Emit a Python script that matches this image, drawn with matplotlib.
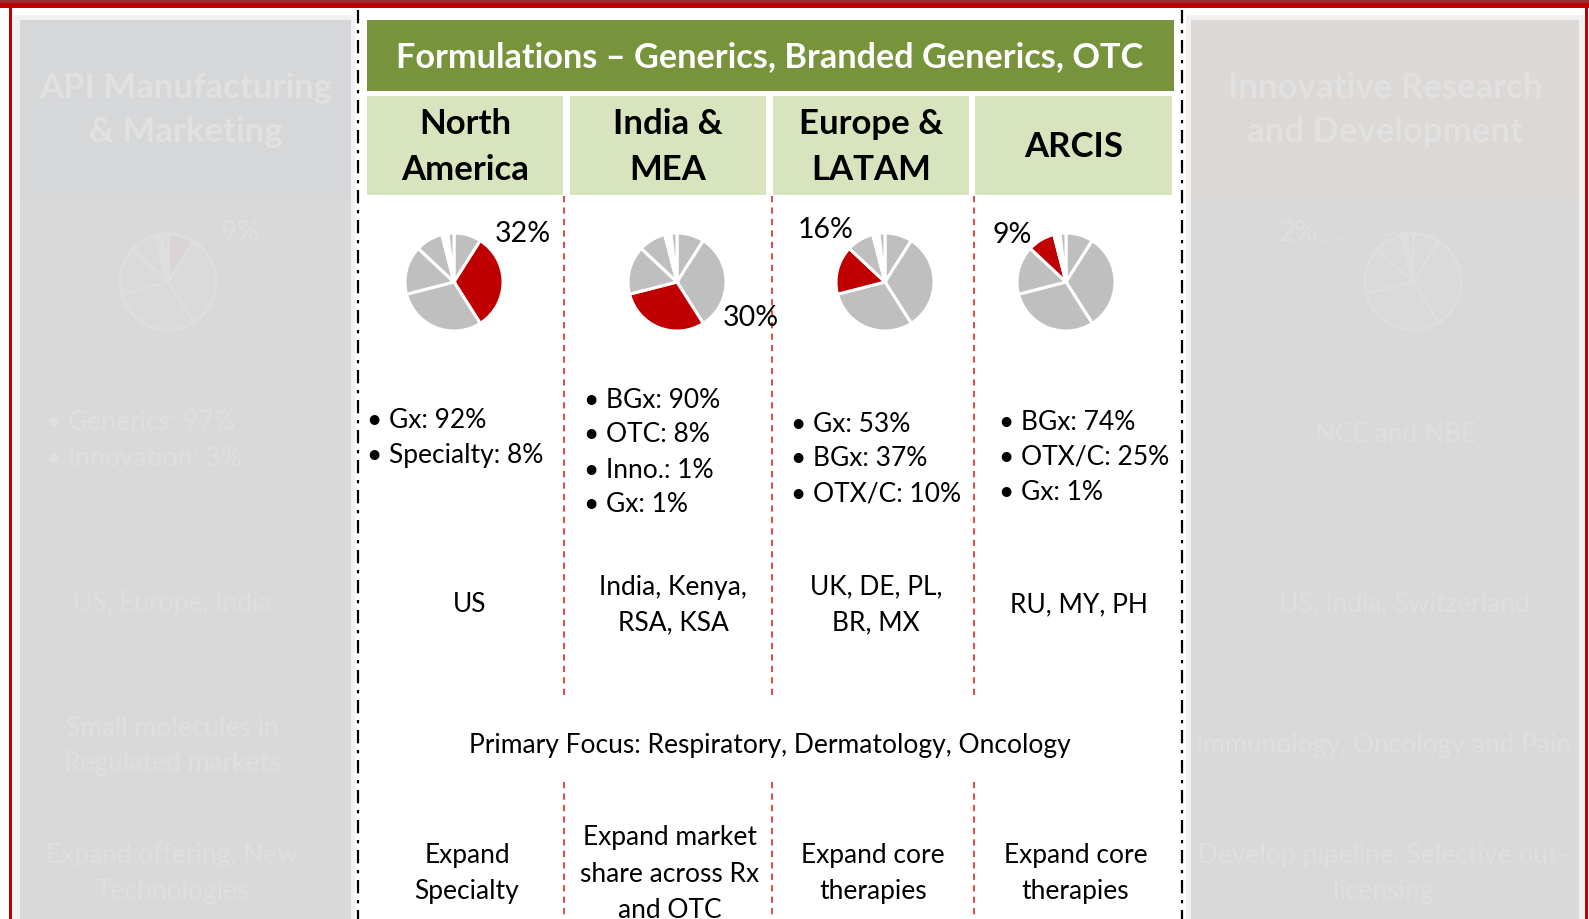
import matplotlib.pyplot as plt
from matplotlib.patches import Rectangle

plt.rcParams['font.family'] = ['Lato', 'DejaVu Sans']

W, H = 1589, 919

# revenue split by business (clockwise from 12 o'clock)
segments = ['API', 'North America', 'India & MEA', 'Europe & LATAM', 'ARCIS', 'Other', 'Other2', 'Innovation']
shares = [9, 32, 30, 16, 9, 1, 1, 2]

title = 'Formulations – Generics, Branded Generics, OTC'
regions = ['North\nAmerica', 'India &\nMEA', 'Europe &\nLATAM', 'ARCIS']
region_seg = [1, 2, 3, 4]
region_pct = ['32%', '30%', '16%', '9%']
region_mix = [['Gx: 92%', 'Specialty: 8%'],
              ['BGx: 90%', 'OTC: 8%', 'Inno.: 1%', 'Gx: 1%'],
              ['Gx: 53%', 'BGx: 37%', 'OTX/C: 10%'],
              ['BGx: 74%', 'OTX/C: 25%', 'Gx: 1%']]
region_markets = ['US', 'India, Kenya,\nRSA, KSA', 'UK, DE, PL,\nBR, MX', 'RU, MY, PH']
region_strategy = ['Expand\nSpecialty', 'Expand market\nshare across Rx\nand OTC',
                   'Expand core\ntherapies', 'Expand core\ntherapies']
focus = 'Primary Focus: Respiratory, Dermatology, Oncology'

side_titles = ['API Manufacturing\n& Marketing', 'Innovative Research\nand Development']
side_seg = [0, 7]
side_pct = ['9%', '2%']
side_mix = ['• Generics: 97%\n• Innovation: 3%', 'NCE and NBE']
side_markets = ['US, Europe, India', 'US, India, Switzerland']
side_focus = ['Small molecules in\nRegulated markets', 'Immunology, Oncology and Pain']
side_strategy = ['Expand offering, New\nTechnologies', 'Develop pipeline, Selective out-\nlicensing']

fig = plt.figure(figsize=(W / 100, H / 100), dpi=100)
ax = fig.add_axes([0, 0, 1, 1])
ax.set_xlim(0, W)
ax.set_ylim(H, 0)
ax.axis('off')

# red frame
ax.add_patch(Rectangle((0, 0), W, 4, color='#9b2d2e', lw=0))
ax.add_patch(Rectangle((0, 3), W, 5, color='#c00000', lw=0))
ax.add_patch(Rectangle((9, 5), 3, H, color='#c00000', lw=0))
ax.add_patch(Rectangle((1585, 5), 3, H, color='#c00000', lw=0))

# faded side panels
for x0, x1, ix0, ix1, hc in [(13, 355, 20, 351, '#d6d7d9'), (1186, 1585, 1191, 1579, '#dbd8d6')]:
    ax.add_patch(Rectangle((x0, 15), x1 - x0, H, color='#f1f1f1', lw=0))
    ax.add_patch(Rectangle((ix0, 20), ix1 - ix0, H, color='#d9d9d9', lw=0))
    ax.add_patch(Rectangle((ix0, 20), ix1 - ix0, 179, color=hc, lw=0))

# dash-dot separators
for x in [358, 1182]:
    ax.plot([x, x], [10, H], color='black', lw=1.6, ls=(0, (6, 3, 1.5, 3)))

# title bar and region headers
ax.add_patch(Rectangle((367, 20), 807, 71, color='#77933c', lw=0))
ax.text(770, 57, title, color='white', fontsize=24.7, fontweight='bold', ha='center', va='center')

col_x = [(367, 563), (570, 766), (773, 969), (975, 1172)]
for (x0, x1), name in zip(col_x, regions):
    ax.add_patch(Rectangle((x0, 96), x1 - x0, 99, color='#d7e4bd', lw=0))
    ax.text((x0 + x1) / 2, 147, name, fontsize=25, fontweight='bold', ha='center', va='center',
            linespacing=1.5)

# red dashed column dividers
for x in [564, 772, 974]:
    ax.plot([x, x], [196, 699], color='#d9534f', lw=1.5, ls=(0, (3, 2.5)))
    ax.plot([x, x], [782, H], color='#d9534f', lw=1.5, ls=(0, (3, 2.5)))


def draw_pie(cx, cy, r, hi, faded=False):
    pax = fig.add_axes([(cx - r) / W, 1 - (cy + r) / H, 2 * r / W, 2 * r / H])
    if faded:
        cols = ['#dadada'] * len(shares)
        cols[hi] = '#dbd4d4'
        edge = '#dedede'
    else:
        cols = ['#bfbfbf'] * len(shares)
        cols[5] = 'white'
        cols[hi] = '#c00000'
        edge = 'white'
    pax.pie(shares, colors=cols, startangle=90, counterclock=False,
            wedgeprops=dict(edgecolor=edge, linewidth=2.2))
    pax.set_xlim(-1.02, 1.02)
    pax.set_ylim(-1.02, 1.02)
    pax.axis('off')


fs = 19
pie_cx = [454, 677, 885, 1066]
pct_xy = [(523, 234), (751, 318), (826, 230), (1012, 235)]
bullet_x = [367, 584, 791, 999]
bullet_y = [420, 400, 424, 422]
for i in range(4):
    draw_pie(pie_cx[i], 282, 50, region_seg[i])
    ax.text(pct_xy[i][0], pct_xy[i][1], region_pct[i], fontsize=20.5, ha='center', va='center')
    for j, item in enumerate(region_mix[i]):
        ax.text(bullet_x[i], bullet_y[i] + j * 35, '• ' + item, fontsize=fs, ha='left', va='center')
    cx = (col_x[i][0] + col_x[i][1]) / 2
    ax.text(cx + 5, 605, region_markets[i], fontsize=fs, ha='center', va='center', linespacing=1.55)
    ax.text(cx + 2, 874, region_strategy[i], fontsize=fs, ha='center', va='center', linespacing=1.55)

ax.text(770, 745, focus, fontsize=fs, ha='center', va='center')

# faded side content
fc = '#dfdfdf'
side_cx = [186, 1385]
side_pie = [168, 1413]
side_pct_xy = [(240, 233), (1298, 233)]
side_markets_x = [172, 1404]
side_focus_x = [172, 1384]
side_strategy_x = [172, 1383]
for k in range(2):
    ax.text(side_cx[k], 110, side_titles[k], color='#e1e1e1', fontsize=25, fontweight='bold',
            ha='center', va='center', linespacing=1.5)
    draw_pie(side_pie[k], 282, 49, side_seg[k], faded=True)
    ax.text(side_pct_xy[k][0], side_pct_xy[k][1], side_pct[k], color=fc, fontsize=20.5,
            ha='center', va='center')
    ax.text(side_markets_x[k], 604, side_markets[k], color=fc, fontsize=fs, ha='center', va='center')
    ax.text(side_focus_x[k], 746, side_focus[k], color=fc, fontsize=fs, ha='center', va='center',
            linespacing=1.55)
    ax.text(side_strategy_x[k], 873, side_strategy[k], color=fc, fontsize=fs, ha='center', va='center',
            linespacing=1.55)
ax.text(46, 440, side_mix[0], color=fc, fontsize=fs, ha='left', va='center', linespacing=1.55)
ax.text(1396, 434, side_mix[1], color=fc, fontsize=fs, ha='center', va='center')
ax.plot([1320, 1410], [241, 232], color='#dddddd', lw=1)

fig.savefig('out.png', dpi=100)
